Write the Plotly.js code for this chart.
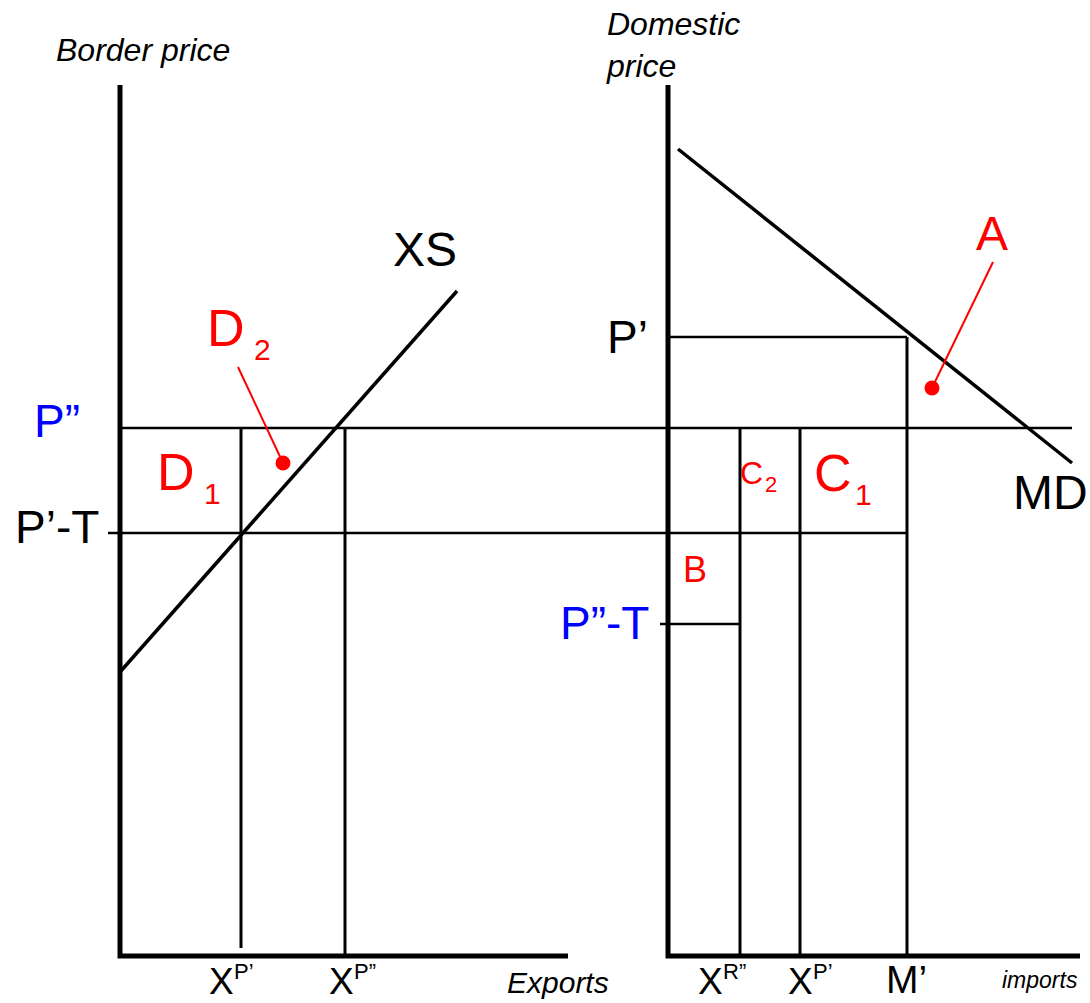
<!DOCTYPE html>
<html>
<head>
<meta charset="utf-8">
<script src="https://cdn.plot.ly/plotly-3.0.1.min.js"></script>
<style>html,body{margin:0;padding:0;background:#fff;}#chart{width:1090px;height:1003px;}</style>
</head>
<body>
<div id="chart"></div>
<script>
// ---- Diagram data (chart units; y grows downward) ----
// price levels: P', P", P'-T, P"-T
const priceNames = ["P’", "P”", "P’-T", "P”-T"];
const priceLevels = [337, 428, 533, 624];
const priceColors = ["black", "blue", "black", "blue"];

// quantities on the export axis (left panel)
const exportNames = ["P’", "P”"];
const exportQty = [241, 345];

// quantities on the import axis (right panel)
const importNames = ["R”", "P’", "M’"];
const importQty = [740, 800, 907];

// axes origins and extents
const leftAxisX = [120, 120, 568];
const leftAxisY = [85, 956, 956];
const rightAxisX = [668, 668, 1080];
const rightAxisY = [85, 956, 956];

// excess supply XS (left) and import demand MD (right)
const xsX = [120, 457];
const xsY = [672, 291];
const mdX = [678, 1072];
const mdY = [149, 463];

// horizontal price lines: [x start, x end]
const pppLineX = [120, 1072];     // P"
const pTLineX = [108, 907];       // P'-T
const pPrimeLineX = [668, 907];   // P'
const pppTLineX = [660, 740];     // P"-T

// area pointers (label leader lines): from -> dot
const d2LeaderX = [238, 283];
const d2LeaderY = [367, 463];
const aLeaderX = [993, 932];
const aLeaderY = [262, 388];

const traces = [];
function seg(x, y, w, color) {
  traces.push({x: x, y: y, mode: "lines", type: "scatter", hoverinfo: "skip",
    line: {color: color || "black", width: w}, showlegend: false});
}

// axes
seg(leftAxisX, leftAxisY, 5);
seg(rightAxisX, rightAxisY, 5);
// price lines
seg(pppLineX, [priceLevels[1], priceLevels[1]], 2.5);
seg(pTLineX, [priceLevels[2], priceLevels[2]], 2.5);
seg(pPrimeLineX, [priceLevels[0], priceLevels[0]], 2.5);
seg(pppTLineX, [priceLevels[3], priceLevels[3]], 2.5);
// vertical quantity lines (left)
seg([exportQty[0], exportQty[0]], [priceLevels[1], 948], 3);
seg([exportQty[1], exportQty[1]], [priceLevels[1], 956], 3);
// vertical quantity lines (right)
seg([importQty[0], importQty[0]], [priceLevels[1], 956], 3);
seg([importQty[1], importQty[1]], [priceLevels[1], 956], 3);
seg([importQty[2], importQty[2]], [priceLevels[0], 956], 3);
// curves
seg(xsX, xsY, 3.5);
seg(mdX, mdY, 3.5);
// leaders
seg(d2LeaderX, d2LeaderY, 2, "red");
seg(aLeaderX, aLeaderY, 2, "red");
traces.push({x: [d2LeaderX[1], aLeaderX[1]], y: [d2LeaderY[1], aLeaderY[1]], mode: "markers",
  type: "scatter", hoverinfo: "skip", showlegend: false,
  marker: {color: "red", size: 15}});

const FONT = "Liberation Sans, Arial, Helvetica, sans-serif";
const ann = [];
function txt(x, y, text, size, color, opts) {
  ann.push(Object.assign({x: x, y: y, xref: "x", yref: "y", text: text, showarrow: false,
    xanchor: "center", yanchor: "middle",
    font: {family: FONT, size: size, color: color || "black"}}, opts || {}));
}

// axis titles
txt(143, 50, "<i>Border price</i>", 32);
txt(604, 45, "<i>Domestic<br>price</i>", 32, "black", {xanchor: "left", align: "left"});
txt(558, 982, "<i>Exports</i>", 30);
txt(1040, 980, "<i>imports</i>", 23);

// price labels
txt(57, 421, priceNames[1], 46, priceColors[1]);
txt(57, 527, priceNames[2], 46, priceColors[2]);
txt(627, 337, priceNames[0], 46, priceColors[0]);
txt(604, 623, priceNames[3], 46, priceColors[3]);

// curve labels
txt(425, 249, "XS", 48);
txt(1050, 492, "MD", 48);

// area labels
txt(226, 328, "D", 52, "red");
txt(262, 349, "2", 30, "red");
txt(176, 472, "D", 52, "red");
txt(212, 493, "1", 30, "red");
txt(833, 473, "C", 52, "red");
txt(863, 494, "1", 30, "red");
txt(751, 473, "C", 32, "red");
txt(771, 484, "2", 22, "red");
txt(695, 569, "B", 36, "red");
txt(992, 233, "A", 48, "red");

// quantity labels: "X" ending at xJoin, superscript starting there
function qlab(xJoin, sup) {
  txt(xJoin, 1003, "X", 37, "black", {xanchor: "right", yanchor: "bottom", borderpad: 0});
  txt(xJoin - 2, 971, sup, 22, "black", {xanchor: "left", borderpad: 0});
}
qlab(235, exportNames[0]);
qlab(355, exportNames[1]);
qlab(724, importNames[0]);
qlab(814, importNames[1]);
txt(906, 1003, importNames[2], 39, "black", {yanchor: "bottom"});

const layout = {
  width: 1090, height: 1003,
  margin: {l: 0, r: 0, t: 0, b: 0},
  paper_bgcolor: "white", plot_bgcolor: "white",
  xaxis: {range: [0, 1090], visible: false, fixedrange: true},
  yaxis: {range: [1003, 0], visible: false, fixedrange: true},
  annotations: ann,
  showlegend: false
};
Plotly.newPlot("chart", traces, layout, {staticPlot: true, displayModeBar: false});
</script>
</body>
</html>
